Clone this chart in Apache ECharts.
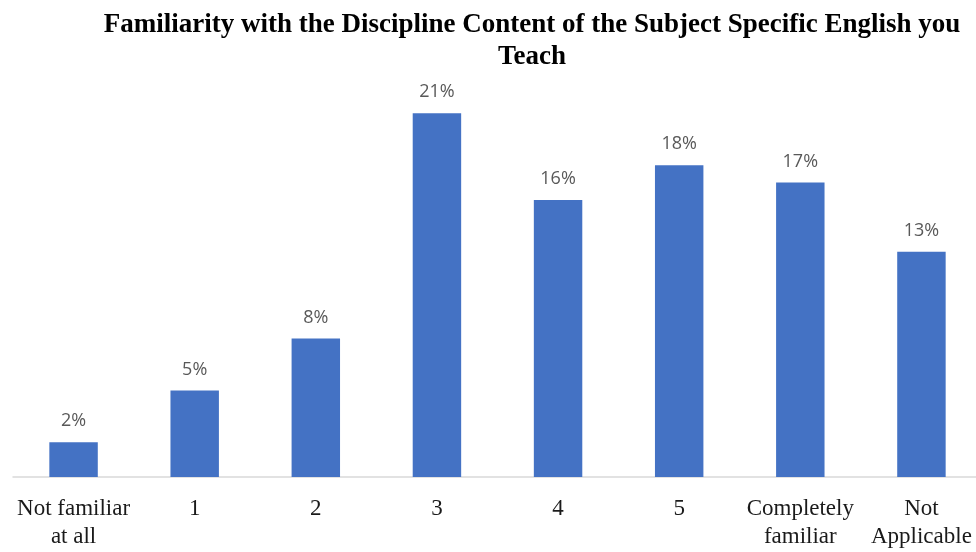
<!DOCTYPE html>
<html>
<head>
<meta charset="utf-8">
<script src="https://cdn.jsdelivr.net/npm/echarts@6/dist/echarts.min.js"></script>
<style>
  html, body { margin: 0; padding: 0; background: #ffffff; overflow: hidden; }
  #chart { width: 986px; height: 552px; }
</style>
</head>
<body>
<div id="chart"></div>
<script>
// Share of respondents per familiarity level (percent)
const categories = ['Not familiar\nat all', '1', '2', '3', '4', '5', 'Completely\nfamiliar', 'Not\nApplicable'];
const shares = [2, 5, 8, 21, 16, 18, 17, 13];
const chartTitle = 'Familiarity with the Discipline Content of the Subject Specific English you\nTeach';

const chart = echarts.init(document.getElementById('chart'), null, { renderer: 'canvas' });

chart.setOption({
  animation: false,
  backgroundColor: '#ffffff',
  title: {
    text: chartTitle,
    left: 527,
    textAlign: 'center',
    top: 4,
    textStyle: {
      fontFamily: 'Liberation Serif',
      fontWeight: 'bold',
      fontSize: 27,
      lineHeight: 32,
      color: '#000000'
    }
  },
  // the plot runs slightly past the right edge of the visible page
  grid: { left: 13, right: 4, top: 44, bottom: 75, containLabel: false },
  xAxis: {
    type: 'category',
    data: categories,
    axisLine: { show: true, lineStyle: { color: '#d9d9d9', width: 1.5 } },
    axisTick: { show: false },
    axisLabel: {
      interval: 0,
      margin: 18,
      fontFamily: 'Liberation Serif',
      fontSize: 23,
      lineHeight: 28,
      color: '#1a1a1a'
    }
  },
  yAxis: {
    type: 'value',
    min: 0,
    max: 25,
    show: false,
    splitLine: { show: false }
  },
  series: [{
    type: 'bar',
    data: shares,
    barWidth: '40%',
    itemStyle: { color: '#4472c4' },
    label: {
      show: true,
      position: 'top',
      distance: 12,
      formatter: '{c}%',
      fontFamily: 'Open Sans',
      fontSize: 18,
      lineHeight: 18,
      color: '#595959'
    }
  }]
});
</script>
</body>
</html>
